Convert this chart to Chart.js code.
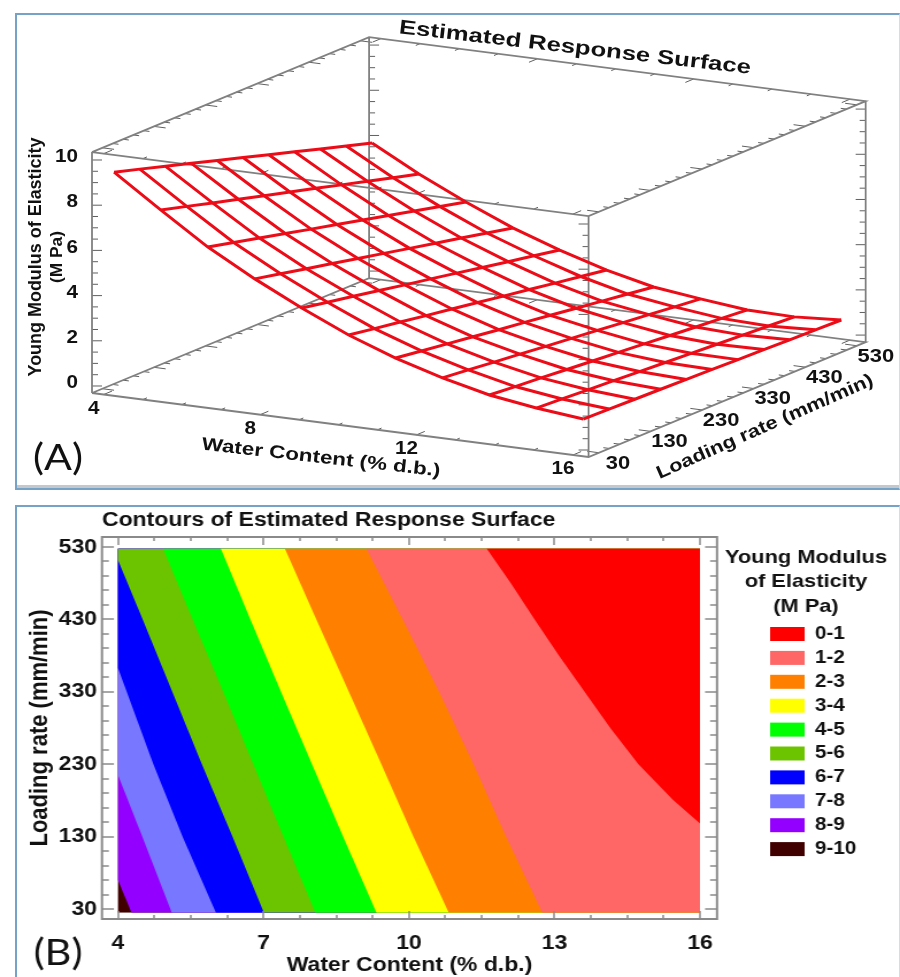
<!DOCTYPE html>
<html lang="en">
<head>
    <meta charset="UTF-8">
    <title>Young Modulus of Elasticity - Response Surface</title>
    <script src="https://cdnjs.cloudflare.com/ajax/libs/Chart.js/4.4.1/chart.umd.min.js"></script>
    <style>
        html, body { margin: 0; padding: 0; background: #fff; }
        body { position: relative; width: 900px; height: 977px; overflow: hidden; }
        .panel {
            position: absolute;
            left: 15px;
            width: 885px;
            box-sizing: border-box;
            border: 2px solid #74a3c7;
            border-right: 1px solid #d5dde3;
            background: #fff;
        }
        #panelA { top: 13px; height: 477px; box-shadow: inset 0 -3px 0 #c4c8cc; }
        #panelB { top: 505px; height: 490px; }
        canvas { position: absolute; left: 0; }
        #surface { top: 0; }
        /* the source figure is stretched sideways, so the lower chart is too */
        #contours { top: 490px; transform: scaleX(1.1494); transform-origin: 0 0; }
    </style>
</head>
<body>
    <div class="panel" id="panelA"></div>
    <div class="panel" id="panelB"></div>
    <canvas id="surface" width="900" height="490"></canvas>
    <canvas id="contours" width="783" height="487"></canvas>

    <script>
        const FONT = '"Liberation Sans", Arial, sans-serif';
        Chart.defaults.color = '#111';
        Chart.defaults.font.family = FONT;
        Chart.defaults.animation = false;

        // ---- data ----
        const waterGrid = [4, 5.2, 6.4, 7.6, 8.8, 10, 11.2, 12.4, 13.6, 14.8, 16];
        const loadGrid = [30, 80, 130, 180, 230, 280, 330, 380, 430, 480, 530];
        // one row per water content, one column per loading rate
        const modulus = [
            [9.34, 9.00, 8.65, 8.31, 7.96, 7.62, 7.27, 6.93, 6.58, 6.24, 5.89],
            [7.93, 7.62, 7.30, 6.99, 6.67, 6.36, 6.05, 5.73, 5.42, 5.10, 4.79],
            [6.56, 6.29, 6.01, 5.74, 5.46, 5.19, 4.92, 4.64, 4.37, 4.09, 3.82],
            [5.42, 5.17, 4.92, 4.68, 4.43, 4.18, 3.93, 3.68, 3.44, 3.19, 2.94],
            [4.40, 4.18, 3.97, 3.75, 3.53, 3.32, 3.10, 2.88, 2.66, 2.45, 2.23],
            [3.47, 3.28, 3.10, 2.91, 2.73, 2.54, 2.35, 2.17, 1.98, 1.80, 1.61],
            [2.72, 2.56, 2.40, 2.24, 2.08, 1.93, 1.77, 1.61, 1.45, 1.29, 1.13],
            [2.11, 1.99, 1.86, 1.74, 1.61, 1.49, 1.37, 1.24, 1.12, 0.99, 0.87],
            [1.62, 1.52, 1.43, 1.33, 1.23, 1.14, 1.04, 0.94, 0.84, 0.75, 0.65],
            [1.31, 1.24, 1.17, 1.10, 1.03, 0.96, 0.89, 0.82, 0.75, 0.68, 0.61],
            [1.09, 1.06, 1.02, 0.99, 0.95, 0.92, 0.88, 0.85, 0.81, 0.78, 0.74]
        ];

        const zLabels = [0, 2, 4, 6, 8, 10];
        const waterLabels3d = [4, 8, 12, 16];
        const loadLabels = [30, 130, 230, 330, 430, 530];
        const waterLabels = [4, 7, 10, 13, 16];

        const bandNames = ['0-1', '1-2', '2-3', '3-4', '4-5', '5-6', '6-7', '7-8', '8-9', '9-10'];
        const bandColors = ['#ff0000', '#ff6666', '#ff8000', '#ffff00', '#00ff00',
                            '#6cc400', '#0000ff', '#7777ff', '#9400ff', '#400000'];

        // left edge of each band in the contour plot: water content / loading rate pairs
        const edge0Water = [16, 16, 15.44, 14.73, 14.15, 13.62, 13.09, 12.59, 12.1, 11.6];
        const edge0Load  = [25, 148, 181, 230, 280, 330, 380, 430, 480, 528];
        const edge1Water = [12.75, 12.0, 11.33, 10.62, 9.87, 9.12];
        const edge1Load  = [25, 130, 230, 330, 430, 528];
        const edge2Water = [10.82, 10.09, 9.43, 8.76, 8.09, 7.44];
        const edge2Load  = [25, 130, 230, 330, 430, 528];
        const edge3Water = [9.33, 8.64, 8.0, 7.36, 6.73, 6.12];
        const edge3Load  = [25, 130, 230, 330, 430, 528];
        const edge4Water = [8.07, 7.41, 6.79, 6.17, 5.54, 4.93];
        const edge4Load  = [25, 130, 230, 330, 430, 528];
        const edge5Water = [7.01, 6.36, 5.73, 5.12, 4.51, 4, 4];
        const edge5Load  = [25, 130, 230, 330, 430, 512, 528];
        const edge6Water = [6.02, 5.33, 4.73, 4.18, 4, 4];
        const edge6Load  = [25, 130, 230, 330, 363, 528];
        const edge7Water = [5.11, 4.5, 4, 4];
        const edge7Load  = [25, 130, 215, 528];
        const edge8Water = [4.28, 4, 4];
        const edge8Load  = [25, 70, 528];
        const edge9Water = [4, 4];
        const edge9Load  = [25, 528];
        const rightWater = [16, 16];
        const rightLoad  = [25, 528];

        const bandWater = [edge0Water, edge1Water, edge2Water, edge3Water, edge4Water,
                           edge5Water, edge6Water, edge7Water, edge8Water, edge9Water];
        const bandLoad = [edge0Load, edge1Load, edge2Load, edge3Load, edge4Load,
                          edge5Load, edge6Load, edge7Load, edge8Load, edge9Load];

        // ---- panel A: oblique projection of the box ----
        const boxWater = [3.7, 16.4];
        const boxLoad = [10, 547];
        const boxZ = [-0.31, 10.35];

        function project(w, l, z) {
            return {
                x: 92 + (w - boxWater[0]) * 39.1 + (l - boxLoad[0]) * 0.516,
                y: 393 + (w - boxWater[0]) * 5.04 - (l - boxLoad[0]) * 0.214 - (z - boxZ[0]) * 22.6
            };
        }

        function boxLines() {
            const [w0, w1] = boxWater, [l0, l1] = boxLoad, [z0, z1] = boxZ;
            const gap = { x: NaN, y: NaN };
            const paths = [
                [[w0, l0, z0], [w1, l0, z0], [w1, l1, z0], [w0, l1, z0], [w0, l0, z0]],
                [[w0, l0, z1], [w1, l0, z1], [w1, l1, z1], [w0, l1, z1], [w0, l0, z1]],
                [[w0, l0, z0], [w0, l0, z1]],
                [[w1, l0, z0], [w1, l0, z1]],
                [[w1, l1, z0], [w1, l1, z1]],
                [[w0, l1, z0], [w0, l1, z1]]
            ];
            const pts = [];
            paths.forEach(p => {
                p.forEach(c => pts.push(project(c[0], c[1], c[2])));
                pts.push(gap);
            });
            return pts;
        }

        function boxTicks() {
            const [w0, w1] = boxWater, [l0, l1] = boxLoad, [z0, z1] = boxZ;
            const pts = [];
            const gap = { x: NaN, y: NaN };
            const seg = (a, b) => pts.push(a, b, gap);
            // modulus ticks on the four uprights
            for (let z = 0; z <= 10; z += 0.5) {
                const len = z % 2 === 0 ? 10 : 6;
                [[w0, l0, 1], [w0, l1, 1], [w1, l0, -1], [w1, l1, -1]].forEach(c => {
                    const p = project(c[0], c[1], z);
                    seg(p, { x: p.x + c[2] * len, y: p.y });
                });
            }
            // water content ticks along the four long edges
            for (let w = 4; w <= 16; w += 1) {
                const len = w % 4 === 0 ? 16 : 8;
                [[l0, z0, 1], [l0, z1, 1], [l1, z0, -1], [l1, z1, -1]].forEach(c => {
                    seg(project(w, c[0], c[1]), project(w, c[0] + c[2] * len, c[1]));
                });
            }
            // loading rate ticks along the four short edges
            for (let l = 30; l <= 530; l += 20) {
                const len = (l - 30) % 100 === 0 ? 0.3 : 0.15;
                [[w0, z0, 1], [w0, z1, 1], [w1, z0, -1], [w1, z1, -1]].forEach(c => {
                    seg(project(c[0], l, c[1]), project(c[0] + c[2] * len, l, c[1]));
                });
            }
            return pts;
        }

        function surfaceDatasets() {
            const sets = [];
            const red = { borderColor: '#ec0c18', borderWidth: 3, showLine: true, pointRadius: 0, tension: 0 };
            waterGrid.forEach((w, i) => {
                sets.push({ ...red, label: 'Water ' + w,
                    data: loadGrid.map((l, j) => project(w, l, modulus[i][j])) });
            });
            loadGrid.forEach((l, j) => {
                sets.push({ ...red, label: 'Load ' + l,
                    data: waterGrid.map((w, i) => project(w, l, modulus[i][j])) });
            });
            return sets;
        }

        function putText(ctx, text, x, y, font, angle, width, align) {
            ctx.save();
            ctx.translate(x, y);
            ctx.rotate((angle || 0) * Math.PI / 180);
            ctx.font = font;
            ctx.fillStyle = '#111';
            ctx.textAlign = align || 'center';
            ctx.textBaseline = 'middle';
            if (width) ctx.scale(width / ctx.measureText(text).width, 1);
            ctx.fillText(text, 0, 0);
            ctx.restore();
        }

        const surfaceText = {
            id: 'surfaceText',
            afterDatasetsDraw(chart) {
                const ctx = chart.ctx;
                const px = p => chart.scales.x.getPixelForValue(p.x);
                const py = p => chart.scales.y.getPixelForValue(p.y);
                const bold = s => 'bold ' + s + 'px ' + FONT;

                zLabels.forEach(z => {
                    const p = project(boxWater[0], boxLoad[0], z);
                    putText(ctx, String(z), px(p) - 14, py(p) - 3, bold(19), 0, String(z).length * 11.5, 'right');
                });
                waterLabels3d.forEach(w => {
                    const p = project(w, boxLoad[0], boxZ[0]);
                    putText(ctx, String(w), px(p) - 10, py(p) + 14, bold(19), 0, String(w).length * 11.5);
                });
                loadLabels.forEach(l => {
                    const p = project(boxWater[1], l, boxZ[0]);
                    putText(ctx, String(l), px(p) + 19, py(p) + 11, bold(18), 0, String(l).length * 12.2);
                });

                putText(ctx, 'Estimated Response Surface', 575, 48, bold(20), 6.6, 354);
                putText(ctx, 'Water Content (% d.b.)', 321, 458, bold(18), 6.4, 240);
                putText(ctx, 'Loading rate (mm/min)', 765, 427, bold(18), -23.8, 235);
                putText(ctx, 'Young Modulus of Elasticity', 36, 257, bold(19), -90, 239);
                putText(ctx, '(M Pa)', 58, 257, bold(16), -90, 52);
                putText(ctx, '(A)', 58, 458, '36px Lato, sans-serif', 0, 50);
            }
        };

        new Chart(document.getElementById('surface'), {
            type: 'scatter',
            data: {
                datasets: [
                    ...surfaceDatasets(),
                    { label: 'Box', data: boxLines(), showLine: true, pointRadius: 0,
                      borderColor: '#808080', borderWidth: 1.8, spanGaps: false },
                    { label: 'Ticks', data: boxTicks(), showLine: true, pointRadius: 0,
                      borderColor: '#606060', borderWidth: 1, spanGaps: false }
                ]
            },
            options: {
                responsive: false,
                layout: { padding: 0 },
                plugins: { legend: { display: false }, tooltip: { enabled: false } },
                scales: {
                    x: { type: 'linear', display: false, min: 0, max: 900 },
                    y: { type: 'linear', display: false, min: 0, max: 490, reverse: true }
                }
            },
            plugins: [surfaceText]
        });

        // ---- panel B: contour bands, each filled from its left edge to the right side ----
        const RIGHT_INDEX = bandNames.length;

        const contourDatasets = bandNames.map((name, i) => ({
            label: name,
            data: bandWater[i].map((w, k) => ({ x: w, y: bandLoad[i][k] })),
            backgroundColor: bandColors[i],
            borderColor: 'transparent',
            borderWidth: 0,
            pointRadius: 0,
            tension: 0,
            fill: RIGHT_INDEX
        }));
        contourDatasets.push({
            label: 'right edge',
            data: rightWater.map((w, k) => ({ x: w, y: rightLoad[k] })),
            borderColor: 'transparent',
            borderWidth: 0,
            pointRadius: 0,
            fill: false
        });

        const frameTicks = {
            id: 'frameTicks',
            afterDatasetsDraw(chart) {
                const { ctx, chartArea: a, scales } = chart;
                const line = (x1, y1, x2, y2) => {
                    ctx.beginPath();
                    ctx.moveTo(x1, y1);
                    ctx.lineTo(x2, y2);
                    ctx.stroke();
                };
                ctx.save();
                ctx.strokeStyle = '#8a8a8a';
                ctx.lineWidth = 1.5;
                for (let l = 30; l <= 530; l += 20) {
                    const y = Math.round(scales.y.getPixelForValue(l));
                    const len = (l - 30) % 100 === 0 ? 10.4 : 6;
                    line(a.left, y, a.left + len, y);
                    line(a.right, y, a.right - len, y);
                }
                for (let k = 0; k <= 16; k++) {
                    const x = Math.round(scales.x.getPixelForValue(4 + k * 0.75));
                    const len = k % 4 === 0 ? 8 : 4;
                    line(x, a.top, x, a.top + len);
                    line(x, a.bottom, x, a.bottom - len);
                }
                ctx.lineWidth = 2;
                ctx.strokeRect(a.left, a.top, a.right - a.left, a.bottom - a.top);
                ctx.restore();
                putText(ctx, '(B)', 50.5, 463, '36px Lato, sans-serif', 0, 42.6);
            }
        };

        // legend: keep the chart area clear of it, then sit it over the swatch column
        const legendPlace = {
            id: 'legendPlace',
            beforeInit(chart) {
                const legend = chart.legend;
                const fit = legend.fit;
                legend.fit = function () {
                    fit.call(this);
                    this.width = 159.2;
                };
                // the centred title is wider than the swatch column, so no clipping
                legend.draw = function () { this._draw(); };
            },
            afterLayout(chart) {
                chart.legend.left = 664.1;
                chart.legend.width = 74.2;
                chart.legend.right = 738.3;
            }
        };

        new Chart(document.getElementById('contours'), {
            type: 'line',
            data: { datasets: contourDatasets },
            options: {
                responsive: false,
                indexAxis: 'y',
                layout: { padding: 0 },
                plugins: {
                    tooltip: { enabled: false },
                    title: {
                        display: true,
                        text: 'Contours of Estimated Response Surface',
                        align: 'start',
                        fullSize: false,
                        font: { size: 20, weight: 'bold' },
                        padding: { top: 18, bottom: 5 }
                    },
                    legend: {
                        position: 'right',
                        align: 'start',
                        title: {
                            display: true,
                            text: ['Young Modulus', 'of Elasticity', '(M Pa)'],
                            font: { size: 19, weight: 'bold', lineHeight: '24.5px' },
                            padding: { top: 58, bottom: 46.6 }
                        },
                        labels: {
                            boxWidth: 30,
                            boxHeight: 14,
                            padding: 5.9,
                            font: { size: 18, weight: 'bold' },
                            filter: item => item.datasetIndex < RIGHT_INDEX
                        }
                    }
                },
                scales: {
                    x: {
                        type: 'linear',
                        min: 3.67,
                        max: 16.35,
                        grid: { display: false, drawTicks: false },
                        border: { display: false },
                        afterBuildTicks: scale => { scale.ticks = waterLabels.map(value => ({ value })); },
                        afterFit: scale => { scale.height = 58; },
                        ticks: { autoSkip: false, maxRotation: 0, padding: 12, callback: v => v,
                                 font: { size: 20, weight: 'bold' } },
                        title: { display: true, text: 'Water Content (% d.b.)',
                                 padding: { top: 0, bottom: 0 },
                                 font: { size: 20, weight: 'bold' } }
                    },
                    y: {
                        type: 'linear',
                        min: 16.2,
                        max: 543.8,
                        grid: { display: false, drawTicks: false },
                        border: { display: false },
                        afterBuildTicks: scale => { scale.ticks = loadLabels.map(value => ({ value })); },
                        afterFit: scale => { scale.width = 88.7; },
                        ticks: { autoSkip: false, padding: 4.3, callback: v => v,
                                 font: { size: 20, weight: 'bold' } },
                        title: { display: true, text: 'Loading rate (mm/min)',
                                 padding: { top: 22, bottom: 0 },
                                 font: { size: 22, weight: 'bold' } }
                    }
                }
            },
            plugins: [frameTicks, legendPlace]
        });
    </script>
</body>
</html>
